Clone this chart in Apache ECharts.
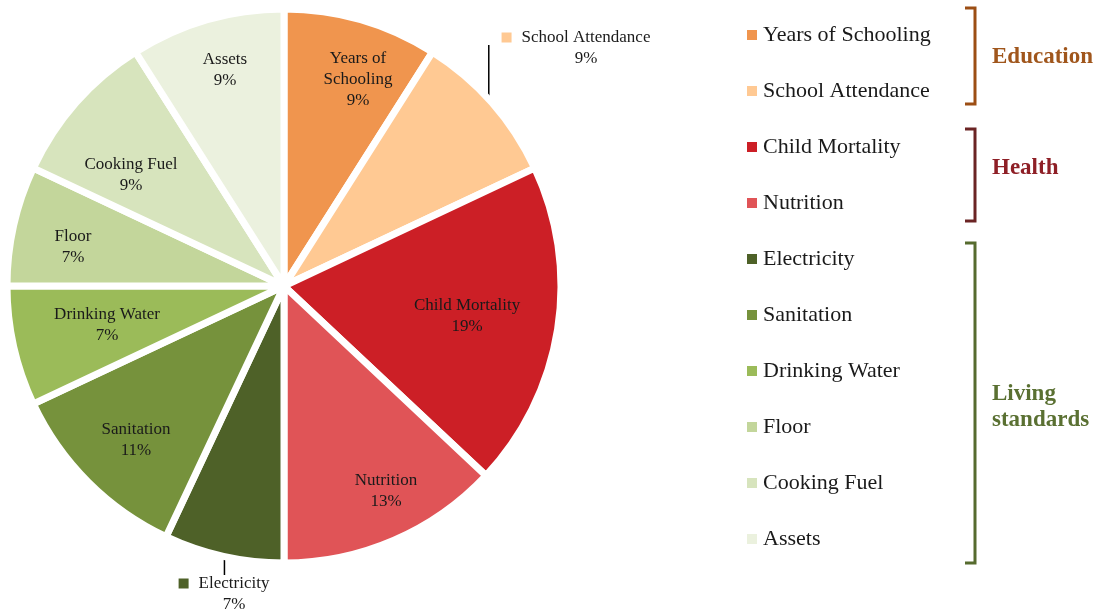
<!DOCTYPE html>
<html><head><meta charset="utf-8">
<script src="https://cdn.jsdelivr.net/npm/echarts@6/dist/echarts.min.js"></script>
<style>html,body{margin:0;padding:0;background:#fff}#c{width:1098px;height:610px}</style>
</head><body><div id="c"></div>
<script>
const categories = ['Years of Schooling','School Attendance','Child Mortality','Nutrition','Electricity','Sanitation','Drinking Water','Floor','Cooking Fuel','Assets'];
const shares = [9, 9, 19, 13, 7, 11, 7, 7, 9, 9];
const colors = ['#F0954E','#FFC993','#CC1F26','#E05457','#4E6128','#76923C','#9BBB59','#C3D69B','#D7E4BD','#EBF1DE'];
const groups = [
  {name:'Education', lines:['Education'], color:'#9C4E14', textColor:'#A0561C', y0:8, y1:104, ty:[57]},
  {name:'Health', lines:['Health'], color:'#6B2424', textColor:'#8E1F26', y0:129, y1:221, ty:[168]},
  {name:'Living standards', lines:['Living','standards'], color:'#566B2E', textColor:'#5A7032', y0:243, y1:563, ty:[394,420]}
];
// label centres (style/layout only)
const labelPos = [[358,80],null,[467,316],[386,491],null,[136,440],[107,325],[73,247],[131,175],[225,70]];
const outside = {1:{x:576, y:48, lineEnd:45}, 4:{x:224, y:594, lineEnd:575}};
const CX = 284, CY = 286, R = 277;

const FONT = '"Liberation Serif", "DejaVu Serif", serif';
const chart = echarts.init(document.getElementById('c'));

const data = categories.map((n,i)=>{
  const d = {name:n, value:shares[i], itemStyle:{color:colors[i]}};
  if (i === 0) d.label = {formatter: 'Years of\nSchooling\n{d}%'};
  if (outside[i]) {
    d.label = {position:'outside',
      formatter: '{m|}{g|}{n|' + n + '}\n{s|}{n|' + shares[i] + '%}',
      rich:{m:{width:10,height:10,backgroundColor:colors[i]}, g:{width:10}, s:{width:20},
            n:{fontFamily:FONT,fontSize:17,color:'#1a1a1a',lineHeight:20}}};
    d.labelLine = {show:true, minTurnAngle:0, lineStyle:{color:'#000', width:1.5}};
  }
  return d;
});

const graphics = [];
groups.forEach(g=>{
  graphics.push({type:'polyline', shape:{points:[[965,g.y0],[975,g.y0],[975,g.y1],[965,g.y1]]},
    style:{stroke:g.color, lineWidth:3, fill:null}});
  g.lines.forEach((t,k)=>{
    graphics.push({type:'text', x:992, y:g.ty[k],
      style:{text:t, fill:g.textColor, font:'bold 23px ' + FONT, textVerticalAlign:'middle'}});
  });
});

chart.setOption({
  animation:false,
  backgroundColor:'#fff',
  color: colors,
  legend:{orient:'vertical', left:745, top:24, padding:0, itemWidth:12, itemHeight:12, itemGap:34, icon:'rect',
    data:categories, selectedMode:false,
    textStyle:{fontFamily:FONT, fontSize:22, color:'#1a1a1a', lineHeight:20}},
  graphic: graphics,
  series:[{
    type:'pie', center:[CX,CY], radius:R, startAngle:90, clockwise:true,
    itemStyle:{borderColor:'#fff', borderWidth:7},
    label:{show:true, position:'inside', formatter:'{b}\n{d}%', fontFamily:FONT, fontSize:17,
      color:'#1a1a1a', lineHeight:21, align:'center'},
    labelLine:{show:false},
    labelLayout: function(p){
      const i = p.dataIndex;
      if (outside[i]) {
        const o = outside[i];
        let p0 = p.labelLinePoints ? p.labelLinePoints[0] : [o.x, o.y];
        const dx = p0[0]-CX, dy = p0[1]-CY, len = Math.sqrt(dx*dx+dy*dy) || 1;
        p0 = [CX + dx/len*(R-4), CY + dy/len*(R-4)];
        const pm = [p0[0], (p0[1]+o.lineEnd)/2];
        return {x:o.x, y:o.y, align:'center', verticalAlign:'middle',
          labelLinePoints:[[p0[0],p0[1]],pm,[p0[0],o.lineEnd]]};
      }
      const lp = labelPos[i];
      return {x:lp[0], y:lp[1], align:'center', verticalAlign:'middle'};
    },
    data: data
  }]
});
</script></body></html>
